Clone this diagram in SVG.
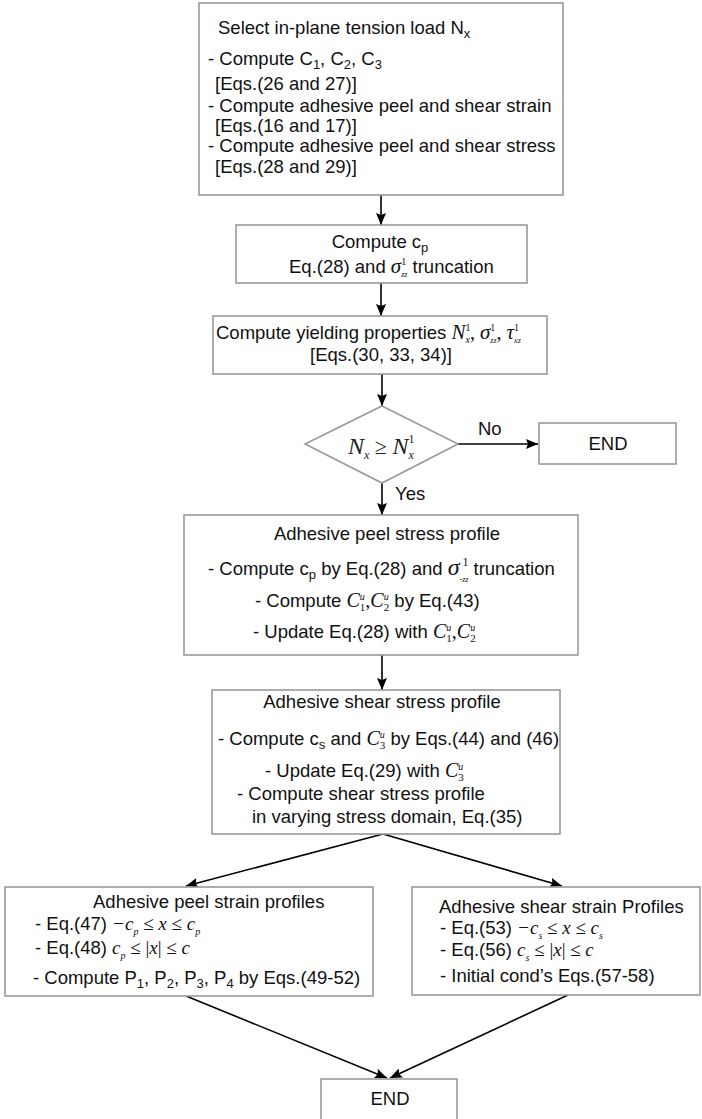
<svg xmlns="http://www.w3.org/2000/svg" width="702" height="1119" viewBox="0 0 702 1119">
<defs>
<marker id="ah" viewBox="0 0 12 10" refX="12" refY="5" markerWidth="12" markerHeight="10" markerUnits="userSpaceOnUse" orient="auto">
<path d="M0,0 L12,5 L0,10 L2,5 z" fill="#000"/>
</marker>
<style>
.box{fill:#fff;stroke:#999;stroke-width:1.6}
.t{font-family:"Liberation Sans",Arial,sans-serif;font-size:18.5px;fill:#111}
.m{font-family:"Liberation Serif","Times New Roman",serif;font-style:italic}
.n{font-family:"Liberation Serif","Times New Roman",serif;font-style:normal}
.c{stroke:#000;stroke-width:1.6;fill:none}
</style>
</defs>
<rect width="702" height="1119" fill="#fff"/>

<g id="connectors">
<line class="c" x1="381" y1="195" x2="381" y2="225" marker-end="url(#ah)"/>
<line class="c" x1="381" y1="283" x2="381" y2="316" marker-end="url(#ah)"/>
<line class="c" x1="382" y1="374" x2="382" y2="406" marker-end="url(#ah)"/>
<line class="c" x1="458" y1="444" x2="538" y2="444" marker-end="url(#ah)"/>
<line class="c" x1="382" y1="483" x2="382" y2="515" marker-end="url(#ah)"/>
<line class="c" x1="382" y1="655" x2="382" y2="690" marker-end="url(#ah)"/>
<line class="c" x1="383" y1="834" x2="186" y2="886" marker-end="url(#ah)"/>
<line class="c" x1="383" y1="834" x2="562" y2="886" marker-end="url(#ah)"/>
<line class="c" x1="186" y1="996" x2="387" y2="1078" marker-end="url(#ah)"/>
<line class="c" x1="568" y1="995" x2="390" y2="1078" marker-end="url(#ah)"/>
<text class="t" x="478" y="435">No</text>
<text class="t" x="395" y="500">Yes</text>
</g>

<g id="select">
<rect class="box" x="199" y="3" width="364" height="192"/>
<text class="t" x="218" y="34">Select in-plane tension load N<tspan dy="4" font-size="13">x</tspan></text>
<text class="t" x="208" y="65">- Compute C<tspan dy="4" font-size="13">1</tspan><tspan dy="-4">, C</tspan><tspan dy="4" font-size="13">2</tspan><tspan dy="-4">, C</tspan><tspan dy="4" font-size="13">3</tspan></text>
<text class="t" x="215" y="90">[Eqs.(26 and 27)]</text>
<text class="t" x="208" y="112">- Compute adhesive peel and shear strain</text>
<text class="t" x="215" y="132">[Eqs.(16 and 17)]</text>
<text class="t" x="208" y="152">- Compute adhesive peel and shear stress</text>
<text class="t" x="215" y="173">[Eqs.(28 and 29)]</text>
</g>

<g id="computecp">
<rect class="box" x="236" y="225" width="291" height="58"/>
<text class="t" x="380" y="248" text-anchor="middle">Compute c<tspan dy="4" font-size="13">p</tspan></text>
<text class="t" x="289" y="273">Eq.(28) and <tspan class="m" font-size="21">σ</tspan><tspan class="n" font-size="10" dy="-8">1</tspan><tspan class="m" font-size="8" dx="-5" dy="12">zz</tspan><tspan dy="-4"> truncation</tspan></text>
</g>

<g id="yielding">
<rect class="box" x="213" y="316" width="334" height="58"/>
<text class="t" x="216" y="339">Compute yielding properties <tspan class="m" font-size="21">N</tspan><tspan class="n" font-size="10" dy="-8">1</tspan><tspan class="m" font-size="10" dx="-5" dy="12">x</tspan><tspan class="n" font-size="20" dy="-4">, </tspan><tspan class="m" font-size="21">σ</tspan><tspan class="n" font-size="10" dy="-8">1</tspan><tspan class="m" font-size="8" dx="-5" dy="12">zz</tspan><tspan class="n" font-size="20" dy="-4">, </tspan><tspan class="m" font-size="21">τ</tspan><tspan class="n" font-size="10" dy="-8">1</tspan><tspan class="m" font-size="8" dx="-5" dy="12">xz</tspan></text>
<text class="t" x="381" y="361" text-anchor="middle">[Eqs.(30, 33, 34)]</text>
</g>

<g id="decision">
<polygon points="382,406 458,444 382,483 305,444" fill="#fff" stroke="#999" stroke-width="1.6"/>
<text class="m" x="348" y="454" font-size="24" fill="#222">N<tspan font-size="12" dy="5">x</tspan><tspan class="n" font-size="22" dy="-5"> ≥ </tspan>N<tspan class="n" font-size="12" dy="-11">1</tspan><tspan font-size="12" dx="-6" dy="16">x</tspan></text>
</g>

<g id="end1">
<rect class="box" x="539" y="423" width="137" height="41"/>
<text class="t" x="608" y="450" text-anchor="middle">END</text>
</g>

<g id="peelstress">
<rect class="box" x="184" y="515" width="394" height="140"/>
<text class="t" x="387" y="540" text-anchor="middle">Adhesive peel stress profile</text>
<text class="t" x="208" y="575">- Compute c<tspan dy="4" font-size="13">p</tspan><tspan dy="-4"> by Eq.(28) and </tspan><tspan class="m" font-size="24">σ</tspan><tspan class="n" font-size="12" dy="-9"> 1</tspan><tspan class="m" font-size="8" dx="-9" dy="16">-zz</tspan><tspan dy="-7"> truncation</tspan></text>
<text class="t" x="255" y="607">- Compute <tspan class="m" font-size="20">C</tspan><tspan class="m" font-size="10" dy="-7">u</tspan><tspan class="n" font-size="11" dx="-5" dy="11">1</tspan><tspan class="n" font-size="20" dy="-4">,</tspan><tspan class="m" font-size="20">C</tspan><tspan class="m" font-size="10" dy="-7">u</tspan><tspan class="n" font-size="11" dx="-5" dy="11">2</tspan><tspan dy="-4"> by Eq.(43)</tspan></text>
<text class="t" x="253" y="638">- Update Eq.(28) with <tspan class="m" font-size="20">C</tspan><tspan class="m" font-size="10" dy="-7">u</tspan><tspan class="n" font-size="11" dx="-5" dy="11">1</tspan><tspan class="n" font-size="20" dy="-4">,</tspan><tspan class="m" font-size="20">C</tspan><tspan class="m" font-size="10" dy="-7">u</tspan><tspan class="n" font-size="11" dx="-5" dy="11">2</tspan></text>
</g>

<g id="shearstress">
<rect class="box" x="212" y="690" width="348" height="144"/>
<text class="t" x="382" y="708" text-anchor="middle">Adhesive  shear stress profile</text>
<text class="t" x="218" y="745">- Compute c<tspan dy="4" font-size="13">s</tspan><tspan dy="-4"> and </tspan><tspan class="m" font-size="20">C</tspan><tspan class="m" font-size="10" dy="-7">u</tspan><tspan class="n" font-size="11" dx="-5" dy="11">3</tspan><tspan dy="-4"> by Eqs.(44) and (46)</tspan></text>
<text class="t" x="265" y="777">- Update Eq.(29) with <tspan class="m" font-size="20">C</tspan><tspan class="m" font-size="10" dy="-7">u</tspan><tspan class="n" font-size="11" dx="-5" dy="11">3</tspan></text>
<text class="t" x="237" y="800">- Compute shear stress profile</text>
<text class="t" x="252" y="823">in varying stress domain, Eq.(35)</text>
</g>

<g id="peelstrain">
<rect class="box" x="5" y="887" width="368" height="109"/>
<text class="t" x="93" y="908">Adhesive peel strain profiles</text>
<text class="t" x="35" y="930">- Eq.(47) <tspan class="m" font-size="19">−c</tspan><tspan class="m" font-size="10" dy="5">p</tspan><tspan class="n" font-size="19" dy="-5"> ≤ </tspan><tspan class="m" font-size="19">x</tspan><tspan class="n" font-size="19"> ≤ </tspan><tspan class="m" font-size="19">c</tspan><tspan class="m" font-size="10" dy="5">p</tspan></text>
<text class="t" x="35" y="954">- Eq.(48)   <tspan class="m" font-size="19">c</tspan><tspan class="m" font-size="10" dy="5">p</tspan><tspan class="n" font-size="19" dy="-5"> ≤ |</tspan><tspan class="m" font-size="19">x</tspan><tspan class="n" font-size="19">| ≤ </tspan><tspan class="m" font-size="19">c</tspan></text>
<text class="t" x="33" y="984">- Compute P<tspan dy="4" font-size="13">1</tspan><tspan dy="-4">, P</tspan><tspan dy="4" font-size="13">2</tspan><tspan dy="-4">, P</tspan><tspan dy="4" font-size="13">3</tspan><tspan dy="-4">, P</tspan><tspan dy="4" font-size="13">4</tspan><tspan dy="-4"> by Eqs.(49-52)</tspan></text>
</g>

<g id="shearstrain">
<rect class="box" x="412" y="887" width="288" height="108"/>
<text class="t" x="439" y="913">Adhesive shear strain Profiles</text>
<text class="t" x="440" y="934">- Eq.(53) <tspan class="m" font-size="19">−c</tspan><tspan class="m" font-size="10" dy="5">s</tspan><tspan class="n" font-size="19" dy="-5"> ≤ </tspan><tspan class="m" font-size="19">x</tspan><tspan class="n" font-size="19"> ≤ </tspan><tspan class="m" font-size="19">c</tspan><tspan class="m" font-size="10" dy="5">s</tspan></text>
<text class="t" x="440" y="956">- Eq.(56)   <tspan class="m" font-size="19">c</tspan><tspan class="m" font-size="10" dy="5">s</tspan><tspan class="n" font-size="19" dy="-5"> ≤ |</tspan><tspan class="m" font-size="19">x</tspan><tspan class="n" font-size="19">| ≤ </tspan><tspan class="m" font-size="19">c</tspan></text>
<text class="t" x="440" y="982">- Initial cond’s Eqs.(57-58)</text>
</g>

<g id="end2">
<rect class="box" x="321" y="1079" width="136" height="50"/>
<text class="t" x="390" y="1105" text-anchor="middle">END</text>
</g>
</svg>
